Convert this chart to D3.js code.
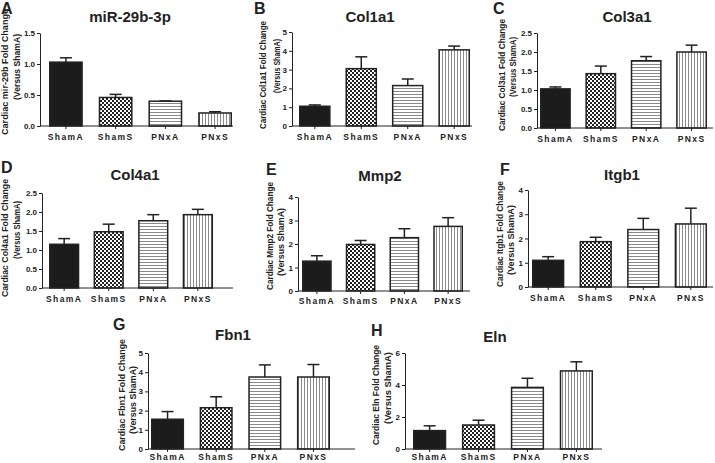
<!DOCTYPE html>
<html><head><meta charset="utf-8">
<script src="https://cdn.jsdelivr.net/npm/d3@7"></script>
<style>
body{margin:0;background:#fff;}
svg text{font-family:"Liberation Sans",Arial,sans-serif;font-weight:bold;fill:#222;}
</style></head><body>
<svg id="c" width="715" height="463"></svg>
<script>
const categories = ["ShamA","ShamS","PNxA","PNxS"];
const categoryLabels = ["ShamA","ShamS","PNxA","PNxS"];

const titles = ["miR-29b-3p","Col1a1","Col3a1","Col4a1","Mmp2","Itgb1","Fbn1","Eln"];
const panelLetters = ["A","B","C","D","E","F","G","H"];
const yLabels = ["Cardiac mir-29b Fold Change","Cardiac Col1a1 Fold Change","Cardiac Col3a1 Fold Change",
  "Cardiac Col4a1 Fold Change","Cardiac Mmp2 Fold Change","Cardiac Itgb1 Fold Change",
  "Cardiac Fbn1 Fold Change","Cardiac Eln Fold Change"];
const yLabel2 = "(Versus ShamA)";

const mir29bMean = [1.03,0.46,0.40,0.21];
const mir29bErr  = [0.07,0.05,0.005,0.02];
const col1a1Mean = [1.05,3.05,2.15,4.05];
const col1a1Err  = [0.07,0.63,0.35,0.20];
const col3a1Mean = [1.03,1.43,1.77,2.00];
const col3a1Err  = [0.05,0.20,0.11,0.18];
const col4a1Mean = [1.15,1.48,1.77,1.93];
const col4a1Err  = [0.15,0.20,0.16,0.14];
const mmp2Mean   = [1.27,1.98,2.27,2.75];
const mmp2Err    = [0.23,0.17,0.38,0.37];
const itgb1Mean  = [1.10,1.87,2.37,2.60];
const itgb1Err   = [0.15,0.18,0.46,0.65];
const fbn1Mean   = [1.55,2.15,3.75,3.75];
const fbn1Err    = [0.40,0.57,0.63,0.65];
const elnMean    = [1.15,1.50,3.85,4.88];
const elnErr     = [0.30,0.30,0.57,0.57];

const ticksA = [0,0.5,1.0,1.5];
const ticksB = [0,1,2,3,4,5];
const ticksC = [0,0.5,1.0,1.5,2.0,2.5];
const ticksD = [0,0.5,1.0,1.5,2.0,2.5];
const ticksE = [0,1,2,3,4];
const ticksF = [0,1,2,3,4];
const ticksG = [0,1,2,3,4,5];
const ticksH = [0,2,4,6];

const means = [mir29bMean,col1a1Mean,col3a1Mean,col4a1Mean,mmp2Mean,itgb1Mean,fbn1Mean,elnMean];
const errs  = [mir29bErr,col1a1Err,col3a1Err,col4a1Err,mmp2Err,itgb1Err,fbn1Err,elnErr];
const tickSets = [ticksA,ticksB,ticksC,ticksD,ticksE,ticksF,ticksG,ticksH];
const tickFormats = [".1f","d",".1f",".1f","d","d","d","d"];

// layout (pixel geometry)
const layout = [
  {x0:40, x1:233, yTop:33, yBot:126, barL:49, barR:232, tx:130, ty:22, lx:1, ly:14, pad:5,
   yl1:8, yl2:20, c1:72, c2:67, len1:126, len2:66},
  {x0:292,x1:472, yTop:32, yBot:126, barL:299,barR:470, tx:370, ty:22, lx:254, ly:14, pad:5,
   yl1:266,yl2:280, c1:75, c2:66, len1:108, len2:54},
  {x0:537,x1:713, yTop:33, yBot:128, barL:540,barR:707, tx:627, ty:22, lx:493, ly:14, pad:5,
   yl1:505,yl2:516, c1:75, c2:67, len1:112, len2:60},
  {x0:42, x1:233, yTop:193,yBot:288, barL:49, barR:213, tx:135, ty:180,lx:1, ly:173, pad:5,
   yl1:8, yl2:20, c1:238, c2:230, len1:118, len2:58},
  {x0:298,x1:470, yTop:197,yBot:291, barL:302,barR:463, tx:380, ty:181,lx:266, ly:175, pad:4,
   yl1:273,yl2:284, c1:236, c2:242, len1:108, len2:68},
  {x0:528,x1:713, yTop:190,yBot:287, barL:532,barR:707, tx:622, ty:180,lx:500, ly:175, pad:5,
   yl1:503,yl2:514, c1:234, c2:240, len1:106, len2:70},
  {x0:148,x1:355, yTop:353,yBot:449, barL:151,barR:330, tx:233, ty:340,lx:113, ly:330, pad:2,
   yl1:125,yl2:136, c1:395, c2:400, len1:112, len2:68},
  {x0:405,x1:602, yTop:353,yBot:449, barL:413,barR:593, tx:495, ty:342,lx:371, ly:336, pad:2,
   yl1:379,yl2:391, c1:395, c2:388, len1:100, len2:72}
];

const svg = d3.select("#c");
const defs = svg.append("defs");
// checker pattern
const pc = defs.append("pattern").attr("id","checker").attr("patternUnits","userSpaceOnUse")
  .attr("width",4).attr("height",4);
pc.append("rect").attr("width",4).attr("height",4).attr("fill","#fff");
pc.append("rect").attr("width",2).attr("height",2).attr("fill","#222");
pc.append("rect").attr("x",2).attr("y",2).attr("width",2).attr("height",2).attr("fill","#222");
// horizontal stripes
const ph = defs.append("pattern").attr("id","hstripe").attr("patternUnits","userSpaceOnUse")
  .attr("width",3).attr("height",3);
ph.append("rect").attr("width",3).attr("height",3).attr("fill","#fff");
ph.append("rect").attr("y",1).attr("width",3).attr("height",1).attr("fill","#8a8a8a");
// vertical stripes
const pv = defs.append("pattern").attr("id","vstripe").attr("patternUnits","userSpaceOnUse")
  .attr("width",3).attr("height",3);
pv.append("rect").attr("width",3).attr("height",3).attr("fill","#fff");
pv.append("rect").attr("x",1).attr("width",1).attr("height",3).attr("fill","#8a8a8a");

const fills = {ShamA:"#1c1c1c", ShamS:"url(#checker)", PNxA:"url(#hstripe)", PNxS:"url(#vstripe)"};

layout.forEach((L,i)=>{
  const g = svg.append("g");
  const ticks = tickSets[i];
  const y = d3.scaleLinear().domain([0, d3.max(ticks)]).range([L.yBot, L.yTop]);
  const x = d3.scaleBand().domain(categories).range([L.barL, L.barR]).paddingInner(0.32).paddingOuter(0);
  const data = categories.map((c,k)=>({c, m:means[i][k], e:errs[i][k]}));

  // error bars
  const cap = 6;
  data.forEach(d=>{
    const cx = x(d.c) + x.bandwidth()/2;
    g.append("line").attr("x1",cx).attr("x2",cx).attr("y1",y(d.m)).attr("y2",y(d.m+d.e))
      .attr("stroke","#222").attr("stroke-width",1.5);
    g.append("line").attr("x1",cx-cap).attr("x2",cx+cap).attr("y1",y(d.m+d.e)).attr("y2",y(d.m+d.e))
      .attr("stroke","#222").attr("stroke-width",1.5);
  });
  // bars
  g.selectAll("rect.bar").data(data).join("rect").attr("class","bar")
    .attr("x",d=>x(d.c)+0.75).attr("width",x.bandwidth()-1.5)
    .attr("y",d=>y(d.m)).attr("height",d=>L.yBot - y(d.m))
    .attr("fill",d=>fills[d.c]).attr("stroke","#222").attr("stroke-width",1.5);

  // y axis
  const ya = d3.axisLeft(y).tickValues(ticks).tickSize(3).tickSizeOuter(0).tickPadding(2)
    .tickFormat(d3.format(tickFormats[i]));
  const yg = g.append("g").attr("transform",`translate(${L.x0},0)`).call(ya);
  yg.selectAll("text").style("font-size","8px").style("font-weight","bold").attr("fill","#222");
  yg.selectAll("line,path").attr("stroke","#222");

  // x axis line + ticks
  g.append("line").attr("x1",L.x0).attr("x2",L.x1).attr("y1",L.yBot).attr("y2",L.yBot).attr("stroke","#222");
  const xa = d3.axisBottom(x).tickSize(3).tickSizeOuter(0).tickPadding(L.pad)
    .tickFormat((d,k)=>categoryLabels[k]);
  const xg = g.append("g").attr("transform",`translate(0,${L.yBot})`).call(xa);
  xg.select(".domain").remove();
  xg.selectAll("line").attr("stroke","#222");
  xg.selectAll("text").style("font-size","8.5px").style("font-weight","bold")
    .style("letter-spacing","1.4px").attr("fill","#222");

  // title
  g.append("text").attr("x",L.tx).attr("y",L.ty).attr("text-anchor","middle")
    .style("font-size","15px").text(titles[i]);
  // panel letter
  g.append("text").attr("x",L.lx).attr("y",L.ly).style("font-size","16px").text(panelLetters[i]);
  // y label
  g.append("text").attr("transform",`translate(${L.yl1},${L.c1}) rotate(-90)`).attr("text-anchor","middle")
    .attr("textLength",L.len1).attr("lengthAdjust","spacingAndGlyphs")
    .style("font-size","9px").text(yLabels[i]);
  g.append("text").attr("transform",`translate(${L.yl2},${L.c2}) rotate(-90)`).attr("text-anchor","middle")
    .attr("textLength",L.len2).attr("lengthAdjust","spacingAndGlyphs")
    .style("font-size","9px").text(yLabel2);
});
</script>
</body></html>
